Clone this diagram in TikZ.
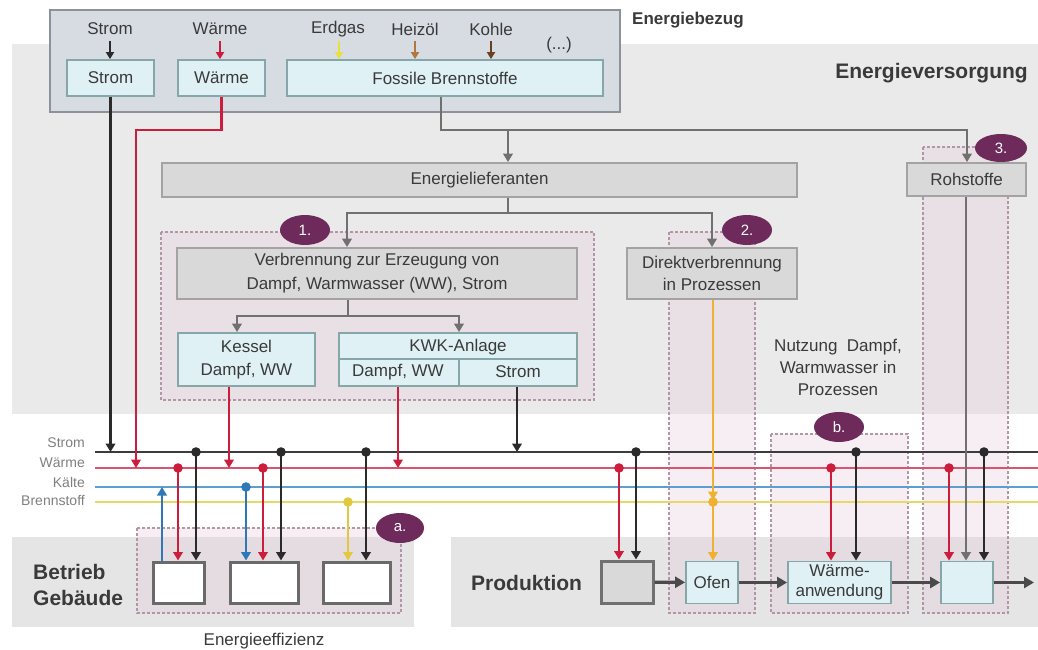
\documentclass[tikz,border=0pt]{standalone}
\usepackage{fontspec}
\setmainfont{Liberation Sans}
\usetikzlibrary{arrows.meta,shapes.geometric}
\definecolor{txt}{HTML}{3A3A3A}
\definecolor{bglt}{HTML}{EAEAEA}
\definecolor{bglo}{HTML}{E5E5E5}
\definecolor{ebzfill}{HTML}{D6DCE2}
\definecolor{ebzbd}{HTML}{8C9299}
\definecolor{cfill}{HTML}{DFF1F4}
\definecolor{cbd}{HTML}{86A7AA}
\definecolor{gfill}{HTML}{D9D9D9}
\definecolor{gbd}{HTML}{A3A3A3}
\definecolor{wbd}{HTML}{6A6A6A}
\definecolor{regfill}{HTML}{E7C9DC}
\definecolor{regbd}{HTML}{B395A9}
\definecolor{badgec}{HTML}{6D2A5B}
\definecolor{gline}{HTML}{707070}
\definecolor{blk}{HTML}{2A2A2A}
\definecolor{rd}{HTML}{CC1E3C}
\definecolor{bl}{HTML}{2E78B8}
\definecolor{yl}{HTML}{E2C83E}
\definecolor{org}{HTML}{F0B030}
\definecolor{busS}{HTML}{3C3C3C}
\definecolor{busW}{HTML}{D9546E}
\definecolor{busK}{HTML}{5A9FD0}
\definecolor{busB}{HTML}{E8D868}
\definecolor{brn}{HTML}{B07840}
\definecolor{dbrn}{HTML}{6A4020}
\definecolor{ylt}{HTML}{E8E040}
\definecolor{buslbl}{HTML}{808080}
\definecolor{chainc}{HTML}{4A4A4A}
\begin{document}
\begin{tikzpicture}[x=1pt,y=-1pt,
  t17/.style={font=\fontsize{17}{22}\selectfont, text=txt},
  cbox/.style={draw=cbd, fill=cfill, line width=1.8pt, inner sep=0pt, align=center, t17},
  gbox/.style={draw=gbd, fill=gfill, line width=1.8pt, inner sep=0pt, align=center, t17},
  wbox/.style={draw=wbd, fill=white, line width=3pt, inner sep=0pt},
  regionbox/.style={draw=regbd, fill=regfill, fill opacity=0.3, line width=1.3pt, dash pattern=on 3pt off 2pt},
  badge/.style={ellipse, fill=badgec, minimum width=50pt, minimum height=30pt, inner sep=0pt, text=white, font=\fontsize{15}{15}\selectfont},
  lbl/.style={t17, inner sep=0pt},
  buslabel/.style={font=\fontsize{14}{14}\selectfont, text=buslbl, anchor=east, inner sep=0pt},
  arw/.style={-{Triangle[length=8.5pt,width=9.5pt]}},
  sarw/.style={-{Triangle[length=7pt,width=8pt]}},
  gcon/.style={draw=gline, line width=2.8pt},
  con/.style={line width=2.7pt},
  bus/.style={line width=2.8pt},
  chain/.style={draw=chainc, line width=3.2pt, -{Triangle[length=10pt,width=11pt]}},
  dot/.style={radius=4.8pt}
]
\useasboundingbox (0,0) rectangle (1038,650);
\fill[white] (0,0) rectangle (1038,650);
% backgrounds
\fill[bglt] (12,44) rectangle (1038,414);
\fill[bglo] (12,537) rectangle (414,627);
\fill[bglo] (451,537) rectangle (1038,627);
% regions
\path[regionbox] (161,232) rectangle (594,400);
\path[regionbox] (669,232) rectangle (755,613);
\path[regionbox] (923,147) rectangle (1008,613);
\path[regionbox] (771,434) rectangle (908,613);
\path[regionbox] (137,528) rectangle (401,613);
% Energiebezug
\node[draw=ebzbd, fill=ebzfill, line width=1.5pt, minimum width=570pt, minimum height=102pt, inner sep=0pt] (ebz) at (335,61) {};
\node[font=\bfseries\fontsize{17}{17}\selectfont, text=txt, anchor=west, inner sep=0pt] (ebzl) at (632,20) {Energiebezug};
\node[font=\bfseries\fontsize{21}{21}\selectfont, text=txt, anchor=east, inner sep=0pt] (evl) at (1028,73) {Energieversorgung};
\node[lbl] (lS) at (110,29) {Strom};
\node[lbl] (lW) at (220,29) {Wärme};
\node[lbl] (lE) at (338,29) {Erdgas};
\node[lbl] (lH) at (415,29) {Heizöl};
\node[lbl] (lK) at (491,29) {Kohle};
\node[lbl] (lX) at (559,45) {(...)};
\node[cbox, minimum width=87pt, minimum height=36pt] (sbox) at (110.5,78) {Strom};
\node[cbox, minimum width=87pt, minimum height=36pt] (wbx) at (221.5,78) {Wärme};
\node[cbox, minimum width=316pt, minimum height=36pt] (fbox) at (445,78) {Fossile Brennstoffe};
\coordinate (aS) at (110,41); \coordinate (aW) at (220,41); \coordinate (aE) at (339,41);
\coordinate (aH) at (415,41); \coordinate (aK) at (491,41);
\draw[con, draw=blk, sarw] (aS) -- (aS |- sbox.north);
\draw[con, draw=rd, sarw] (aW) -- (aW |- wbx.north);
\draw[con, draw=ylt, sarw] (aE) -- (aE |- fbox.north);
\draw[con, draw=brn, sarw] (aH) -- (aH |- fbox.north);
\draw[con, draw=dbrn, sarw] (aK) -- (aK |- fbox.north);
% supply boxes
\node[gbox, minimum width=635pt, minimum height=34pt] (el) at (479.5,180) {Energielieferanten};
\node[gbox, minimum width=119pt, minimum height=33pt] (roh) at (966.5,179.5) {Rohstoffe};
\node[gbox, minimum width=400pt, minimum height=51pt, font=\fontsize{17}{24}\selectfont] (vb) at (377,273.5) {Verbrennung zur Erzeugung von\\Dampf, Warmwasser (WW), Strom};
\node[gbox, minimum width=170pt, minimum height=51pt] (dv) at (712,273.5) {Direktverbrennung\\in Prozessen};
\node[cbox, minimum width=137pt, minimum height=53pt, font=\fontsize{17}{23}\selectfont] (kes) at (246.5,359.5) {Kessel\\Dampf, WW};
\node[cbox, minimum width=238pt, minimum height=53pt] (kwk) at (458,359.5) {};
\coordinate (kd1) at (459,359);
\draw[draw=cbd, line width=1.8pt] (kd1 -| kwk.west) -- (kd1 -| kwk.east);
\draw[draw=cbd, line width=1.8pt] (kd1) -- (kd1 |- kwk.south);
\node[lbl] (kwkt) at (458,347) {KWK-Anlage};
\node[lbl] (kwkd) at (398,372) {Dampf, WW};
\node[lbl] (kwks) at (518,372) {Strom};
\node[lbl, align=center, font=\fontsize{17}{22}\selectfont] (nutz) at (838,367) {Nutzung\ \ Dampf,\\Warmwasser in\\Prozessen};
% grey supply connectors
\coordinate (f1) at (441,130); \coordinate (f2) at (967,130); \coordinate (f3) at (508,130);
\draw[gcon, arw] (f1 |- fbox.south) -- (f1) -- (f2) -- (f2 |- roh.north);
\draw[gcon, arw] (f3) -- (f3 |- el.north);
\coordinate (e1) at (508,213); \coordinate (e2) at (347,213); \coordinate (e3) at (712,213);
\draw[gcon] (e1 |- el.south) -- (e1);
\draw[gcon, arw] (e1) -| (e2 |- vb.north);
\draw[gcon, arw] (e1) -| (e3 |- dv.north);
\coordinate (v1) at (348,316); \coordinate (k1) at (237,316); \coordinate (k2) at (459,316);
\draw[gcon] (v1 |- vb.south) -- (v1);
\draw[gcon, arw] (v1) -| (k1 |- kes.north);
\draw[gcon, arw] (v1) -| (k2 |- kwk.north);
% badges
\node[badge] (b1) at (305,230) {1.};
\node[badge] (b2) at (747,230) {2.};
\node[badge, minimum width=52pt, minimum height=28pt] (b3) at (1001,148) {3.};
\node[badge] (bb) at (839,427) {b.};
\node[badge, minimum width=48pt] (ba) at (400,528) {a.};
% buses
\coordinate (bS0) at (95,452); \coordinate (bS1) at (1038,452);
\coordinate (bW0) at (95,468); \coordinate (bW1) at (1038,468);
\coordinate (bK0) at (95,487); \coordinate (bK1) at (1038,487);
\coordinate (bB0) at (95,502); \coordinate (bB1) at (1038,502);
\draw[bus, draw=busS] (bS0) -- (bS1);
\draw[bus, draw=busW] (bW0) -- (bW1);
\draw[bus, draw=busK] (bK0) -- (bK1);
\draw[bus, draw=busB] (bB0) -- (bB1);
\node[buslabel] (lbS) at (85,443) {Strom};
\node[buslabel] (lbW) at (85,463) {Wärme};
\node[buslabel] (lbK) at (85,482) {Kälte};
\node[buslabel] (lbB) at (85,500) {Brennstoff};
% supply to buses
\draw[con, draw=blk, arw] (sbox.south) -- (sbox.south |- bS0);
\coordinate (w1) at (221.5,130); \coordinate (w2) at (136,130);
\draw[con, draw=rd, arw] (wbx.south) -- (w1) -- (w2) -- (w2 |- bW0);
\coordinate (kw) at (229,468);
\draw[con, draw=rd, arw] (kw |- kes.south) -- (kw);
\coordinate (kww) at (398,468);
\draw[con, draw=rd, arw] (kww |- kwk.south) -- (kww);
\coordinate (kws) at (517,452);
\draw[con, draw=blk, arw] (kws |- kwk.south) -- (kws);
% Betrieb Gebaeude
\node[wbox, minimum width=51pt, minimum height=41pt] (g1) at (178.5,582.5) {};
\node[wbox, minimum width=68pt, minimum height=41pt] (g2) at (264,582.5) {};
\node[wbox, minimum width=67pt, minimum height=41pt] (g3) at (356.5,582.5) {};
\node[font=\bfseries\fontsize{21}{26}\selectfont, text=txt, anchor=west, align=left, inner sep=0pt] (betr) at (33,585) {Betrieb\\Gebäude};
\node[lbl] (eff) at (264,641) {Energieeffizienz};
\coordinate (c1) at (162,487);
\draw[con, draw=bl, arw] (c1 |- g1.north) -- (c1);
\coordinate (d1) at (178,468); \coordinate (d2) at (196,452);
\coordinate (d3) at (246,487); \coordinate (d4) at (263,468); \coordinate (d5) at (281,452);
\coordinate (d6) at (348,502); \coordinate (d7) at (366,452);
\draw[con, draw=rd, arw] (d1) -- (d1 |- g1.north);
\draw[con, draw=blk, arw] (d2) -- (d2 |- g1.north);
\draw[con, draw=bl, arw] (d3) -- (d3 |- g2.north);
\draw[con, draw=rd, arw] (d4) -- (d4 |- g2.north);
\draw[con, draw=blk, arw] (d5) -- (d5 |- g2.north);
\draw[con, draw=yl, arw] (d6) -- (d6 |- g3.north);
\draw[con, draw=blk, arw] (d7) -- (d7 |- g3.north);
\fill[rd] (d1) circle[dot]; \fill[blk] (d2) circle[dot];
\fill[bl] (d3) circle[dot]; \fill[rd] (d4) circle[dot]; \fill[blk] (d5) circle[dot];
\fill[yl] (d6) circle[dot]; \fill[blk] (d7) circle[dot];
% Produktion
\node[font=\bfseries\fontsize{21}{21}\selectfont, text=txt, anchor=west, inner sep=0pt] (prod) at (471,583) {Produktion};
\node[draw=gline, fill=gfill, line width=3pt, minimum width=52pt, minimum height=42pt, inner sep=0pt] (p0) at (627,582) {};
\node[cbox, minimum width=52pt, minimum height=42pt] (ofen) at (712,582.5) {Ofen};
\node[cbox, minimum width=103pt, minimum height=42pt, font=\fontsize{17}{20}\selectfont] (wa) at (839.5,582.5) {Wärme-\\anwendung};
\node[cbox, minimum width=52pt, minimum height=42pt] (last) at (967,582.5) {};
\coordinate (pend) at (1034,582.5);
\draw[chain] (p0) -- (ofen);
\draw[chain] (ofen) -- (wa);
\draw[chain] (wa) -- (last);
\draw[chain] (last) -- (pend);
\coordinate (y1) at (713,500); \coordinate (y2) at (713,502);
\draw[con, draw=org, line width=2.8pt, arw] (y1 |- dv.south) -- (y1);
\draw[con, draw=org, line width=2.8pt, arw] (y2) -- (y2 |- ofen.north);
\fill[org] (y2) circle[dot];
\coordinate (r0) at (966,562);
\draw[gcon, arw] (r0 |- roh.south) -- (r0 |- last.north);
\coordinate (q1) at (619,468); \coordinate (q2) at (636,452);
\coordinate (q3) at (831,468); \coordinate (q4) at (856,452);
\coordinate (q5) at (949,468); \coordinate (q6) at (984,452);
\draw[con, draw=rd, arw] (q1) -- (q1 |- p0.north);
\draw[con, draw=blk, arw] (q2) -- (q2 |- p0.north);
\draw[con, draw=rd, arw] (q3) -- (q3 |- wa.north);
\draw[con, draw=blk, arw] (q4) -- (q4 |- wa.north);
\draw[con, draw=rd, arw] (q5) -- (q5 |- last.north);
\draw[con, draw=blk, arw] (q6) -- (q6 |- last.north);
\fill[rd] (q1) circle[dot]; \fill[blk] (q2) circle[dot];
\fill[rd] (q3) circle[dot]; \fill[blk] (q4) circle[dot];
\fill[rd] (q5) circle[dot]; \fill[blk] (q6) circle[dot];
\end{tikzpicture}
\end{document}
